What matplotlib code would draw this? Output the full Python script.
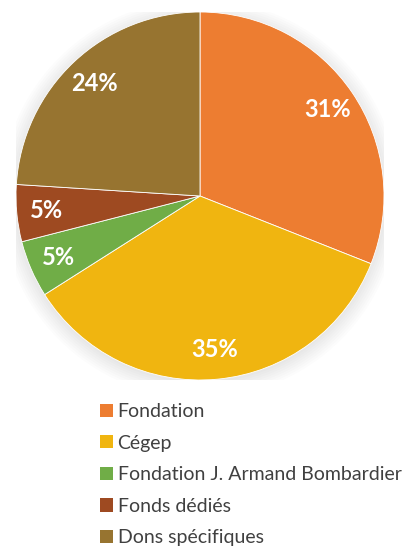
import matplotlib
matplotlib.use("Agg")
from matplotlib import pyplot as plt
from matplotlib.patches import Patch, Circle

# data
labels = ["Fondation", "Cégep", "Fondation J. Armand Bombardier",
          "Fonds dédiés", "Dons spécifiques"]
shares = [31, 35, 5, 5, 24]
colors = ["#ED7D31", "#F0B510", "#70AD47", "#9E4A21", "#977430"]

plt.rcParams['font.family'] = ['Lato', 'DejaVu Sans']

W, H = 411, 548
fig = plt.figure(figsize=(W / 100, H / 100), dpi=100)
cx, cy, r = 200, 196, 184
ax = fig.add_axes([(cx - r) / W, 1 - (cy + r) / H, 2 * r / W, 2 * r / H])

# soft shadow under the pie
for i in range(8):
    ax.add_patch(Circle((0.0, -0.015), 1.0 + 0.012 * i, color="black",
                        alpha=0.012, lw=0, zorder=0))

wedges, texts, autotexts = ax.pie(
    shares, colors=colors, startangle=90, counterclock=False,
    autopct=lambda p: "%d%%" % round(p), pctdistance=0.84,
    wedgeprops=dict(linewidth=0.6, edgecolor="white"),
    textprops=dict(color="white", fontsize=17, fontweight="bold"))
for w in wedges:
    w.set_zorder(2)
for t in autotexts:
    t.set_zorder(3)
ax.set_xlim(-1, 1)
ax.set_ylim(-1, 1)
ax.set_aspect("equal")
ax.axis("off")

handles = [Patch(facecolor=c, edgecolor="none") for c in colors]
fig.legend(handles, labels, loc="upper left",
           bbox_to_anchor=(100 / W, 1 - 403 / H), frameon=False,
           fontsize=14, labelcolor="#404040", handlelength=0.68,
           handleheight=0.68, handletextpad=0.22, labelspacing=0.75,
           borderpad=0, borderaxespad=0)

fig.savefig("out.png", dpi=100, facecolor="white")
